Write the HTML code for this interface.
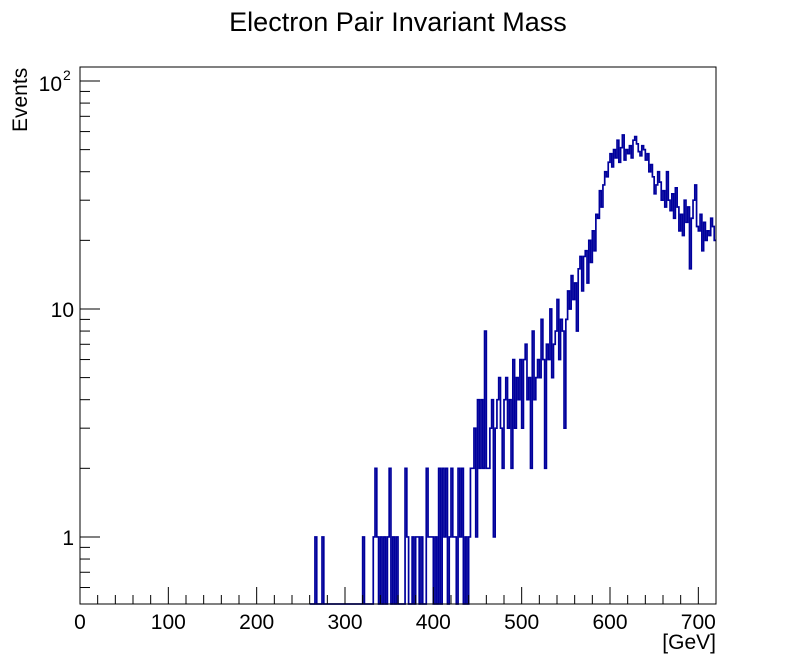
<!DOCTYPE html>
<html><head><meta charset="utf-8"><style>
html,body{margin:0;padding:0;background:#fff;}
svg{display:block;font-family:"Liberation Sans",sans-serif;}
</style></head><body>
<svg id="c" width="796" height="672">
<text x="398" y="31" text-anchor="middle" font-size="27">Electron Pair Invariant Mass</text>
<text x="716" y="649" text-anchor="end" font-size="21">[GeV]</text>
<text transform="translate(27,132) rotate(-90)" font-size="21">Events</text>
<g id="hist"></g>
<rect x="80" y="67" width="636" height="537" fill="none" stroke="#000" stroke-width="1"/>
<g id="axes"></g>
</svg>
<script>
const binStart = 260;
const binWidth = 2;
const counts = [
0,0,0,1,0,0,0,1,0,0, 0,0,0,0,0,0,0,0,0,0,
0,0,0,0,0,0,0,0,0,0, 1,0,0,0,0,0,1,2,1,0,
1,0,1,0,1,2,0,1,0,1, 0,0,0,0,2,1,0,0,1,0,
1,1,0,1,0,0,2,1,1,1, 0,1,0,2,0,2,1,2,0,1,
2,1,1,0,2,1,2,0,1,0,
1,2,2,3,1,4,2,4,2,8,
2,2,3,4,1,3,4,5,3,2,
4,5,3,4,2,6,3,5,4,6,
3,6,7,4,5,2,8,4,5,6,
5,9,6,2,7,6,10,5,7,8,
11,6,9,8,3,9,12,10,14,11,
13,8,15,17,12,17,18,13,20,16,
22,18,26,25,33,28,35,40,38,44,
48,42,50,46,55,44,51,58,45,50,
48,52,46,55,57,53,49,47,52,50,
45,48,40,43,38,32,35,40,36,30,
33,28,40,30,27,32,25,34,28,22,
26,21,30,24,28,15,25,30,35,23,
22,26,18,24,20,22,21,25,23,20
];
const xTicks = [0,100,200,300,400,500,600,700];
const X0=80,X1=716,XMIN=0,XMAX=720;
const Y0=604,Y1=67;
const LMIN=Math.log10(0.508),LMAX=Math.log10(100)+(81-67)/228;
const sx=v=>X0+(v-XMIN)/(XMAX-XMIN)*(X1-X0);
const sy=v=>v<=0?Y0:Math.max(Y1,Y0-(Math.log10(v)-LMIN)/(LMAX-LMIN)*(Y0-Y1));
const NS="http://www.w3.org/2000/svg";
function mk(t,a){const e=document.createElementNS(NS,t);for(const k in a)e.setAttribute(k,a[k]);return e;}
let d="M"+sx(binStart)+","+Y0;
counts.forEach((c,i)=>{const xa=sx(binStart+i*binWidth),xb=sx(binStart+(i+1)*binWidth),y=sy(c);d+=" L"+xa+","+y+" L"+xb+","+y;});
const p=mk("path",{d:d,fill:"none",stroke:"#00009c","stroke-width":"1.7"});


document.getElementById("hist").appendChild(p);
const ax=document.getElementById("axes");
for(let v=0;v<=720;v+=20){const maj=v%100===0;const l=mk("line",{x1:sx(v),x2:sx(v),y1:Y0,y2:Y0-(maj?17:9),stroke:"#000"});


ax.appendChild(l);}
xTicks.forEach(v=>{const t=mk("text",{x:sx(v),y:629,"text-anchor":"middle","font-size":"21"});t.textContent=v;


ax.appendChild(t);});
[0.6,0.7,0.8,0.9,1,2,3,4,5,6,7,8,9,10,20,30,40,50,60,70,80,90,100].forEach(v=>{const maj=(v===1||v===10||v===100);const y=sy(v);const l=mk("line",{x1:X0,x2:X0+(maj?20:10),y1:y,y2:y,stroke:"#000"});


ax.appendChild(l);});
[["1",1],["10",10]].forEach(([s,v])=>{const t=mk("text",{x:74,y:sy(v)+8,"text-anchor":"end","font-size":"21"});t.textContent=s;


ax.appendChild(t);});
const t=mk("text",{x:62,y:sy(100)+10,"text-anchor":"end","font-size":"21"});t.textContent="10";


ax.appendChild(t);
const t2=mk("text",{x:63,y:sy(100)-1,"font-size":"14"});t2.textContent="2";


ax.appendChild(t2);
</script>
</body></html>
